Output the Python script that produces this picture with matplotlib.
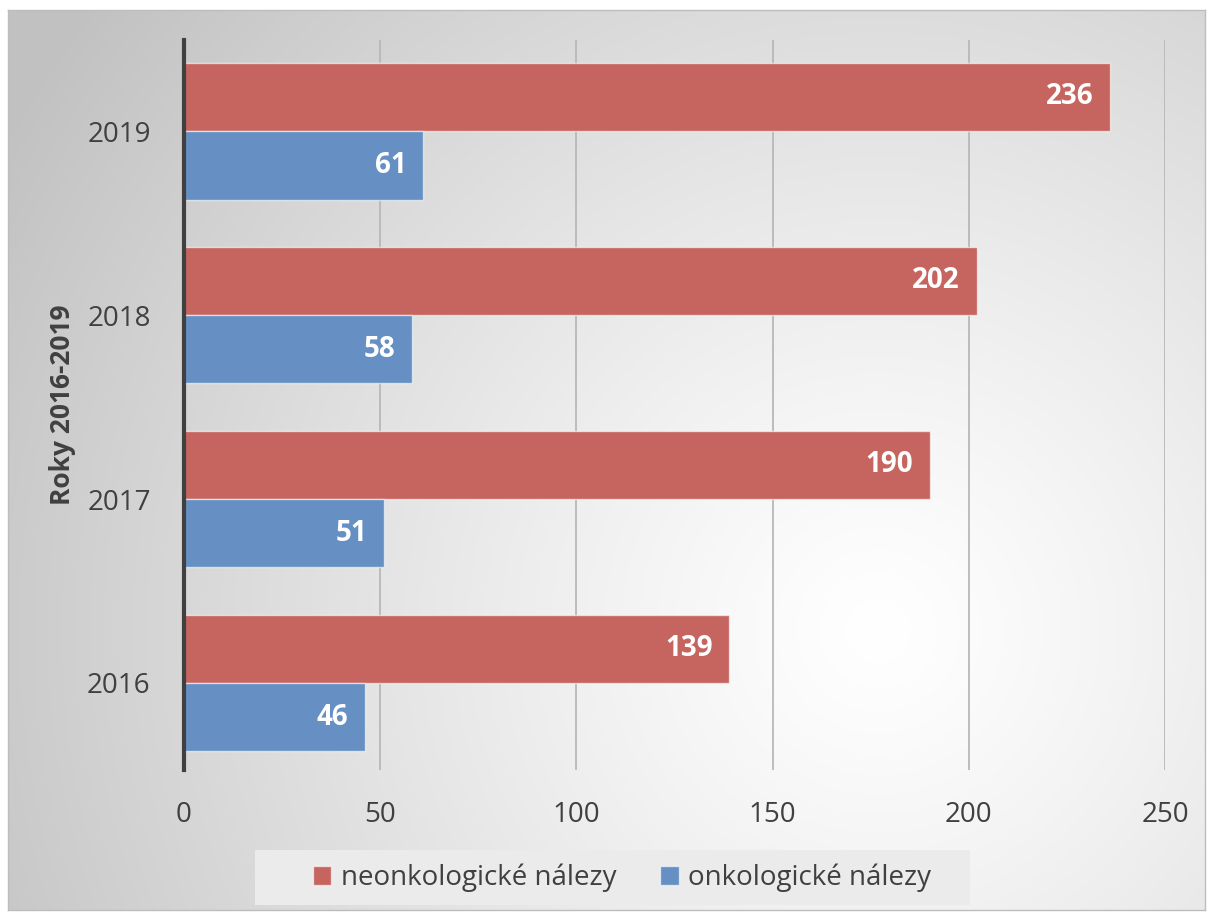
import numpy as np
import matplotlib
matplotlib.use("Agg")
import matplotlib.pyplot as plt
from matplotlib.patches import Patch, Rectangle

years = ["2016", "2017", "2018", "2019"]
neonko = [139, 190, 202, 236]
onko = [46, 51, 58, 61]
series_names = ["neonkologické nálezy", "onkologické nálezy"]
xticks = [0, 50, 100, 150, 200, 250]

plt.rcParams['font.family'] = ['Open Sans', 'DejaVu Sans']

W, H = 1210, 914
fig = plt.figure(figsize=(W / 100, H / 100), dpi=100)
fig.patch.set_facecolor("white")

# background with radial gradient
bg = fig.add_axes([8 / W, 1 - 910 / H, (1205 - 8) / W, (910 - 10) / H])
bw, bh = 1197, 900
xx, yy = np.meshgrid(np.arange(bw), np.arange(bh))
cx, cy = 870, 620
d = np.sqrt((xx - cx) ** 2 + (yy - cy) ** 2) / 1000.0
d = np.clip(d, 0, 1)
v = 1.0 - 0.24 * d ** 1.2
img = np.dstack([v, v, v])
bg.imshow(img, aspect="auto", extent=[0, 1, 0, 1], origin="upper")
bg.set_xticks([]); bg.set_yticks([])
for s in bg.spines.values():
    s.set_color("#bdbdbd"); s.set_linewidth(1)
bg.set_zorder(0)

ax = fig.add_axes([184 / W, 1 - 770 / H, (1165 - 184) / W, (770 - 40) / H])
ax.set_zorder(1)
ax.patch.set_alpha(0)

red = "#c6645f"
blue = "#6690c4"
h = 0.372
y = np.arange(len(years))
ax.barh(y + h / 2, neonko, height=h, color=red, edgecolor=(1, 1, 1, 0.6), linewidth=1, zorder=3)
ax.barh(y - h / 2, onko, height=h, color=blue, edgecolor=(1, 1, 1, 0.6), linewidth=1, zorder=3)

for vals, off in ((neonko, h / 2), (onko, -h / 2)):
    for yi, val in zip(y, vals):
        ax.annotate(str(val), xy=(val, yi + off), xytext=(-12, 0), textcoords="offset points",
                    ha="right", va="center", color="white", fontsize=20, fontweight="bold", zorder=4)

ax.set_xlim(0, 250)
ax.set_ylim(-0.473, 3.495)
ax.set_xticks(xticks)
ax.set_xticklabels([str(t) for t in xticks])
ax.set_yticks(y)
ax.set_yticklabels(years)
ax.tick_params(axis="both", length=0, labelsize=20, colors="#404040")
ax.tick_params(axis="x", pad=22)
ax.tick_params(axis="y", pad=24)
ax.grid(axis="x", color="#b8b8b8", linewidth=1.3, zorder=0)
ax.set_axisbelow(True)
for k in ("top", "right", "bottom"):
    ax.spines[k].set_visible(False)
ax.spines["left"].set_color("#404040")
ax.spines["left"].set_linewidth(3)
ax.spines["left"].set_zorder(5)

fig.text(62 / W, 1 - 405 / H, "Roky 2016-2019", rotation=90, ha="center", va="center",
         fontsize=19, fontweight="bold", color="#404040")

# legend box
fig.patches.append(Rectangle((255 / W, 1 - 905 / H), (970 - 255) / W, 55 / H,
                             transform=fig.transFigure, facecolor="#ebebeb", edgecolor="none", zorder=2))

handles = [Patch(facecolor=red, edgecolor=(1, 1, 1, 0.6)), Patch(facecolor=blue, edgecolor=(1, 1, 1, 0.6))]
leg = fig.legend(handles, series_names, loc="center", bbox_to_anchor=(622 / W, 1 - 878 / H),
                 ncol=2, fontsize=20, frameon=False, handlelength=0.65, handleheight=0.65,
                 handletextpad=0.35, columnspacing=1.6, borderpad=0.3, labelcolor="#404040")
leg.set_zorder(3)

fig.savefig("out.png", dpi=100)
